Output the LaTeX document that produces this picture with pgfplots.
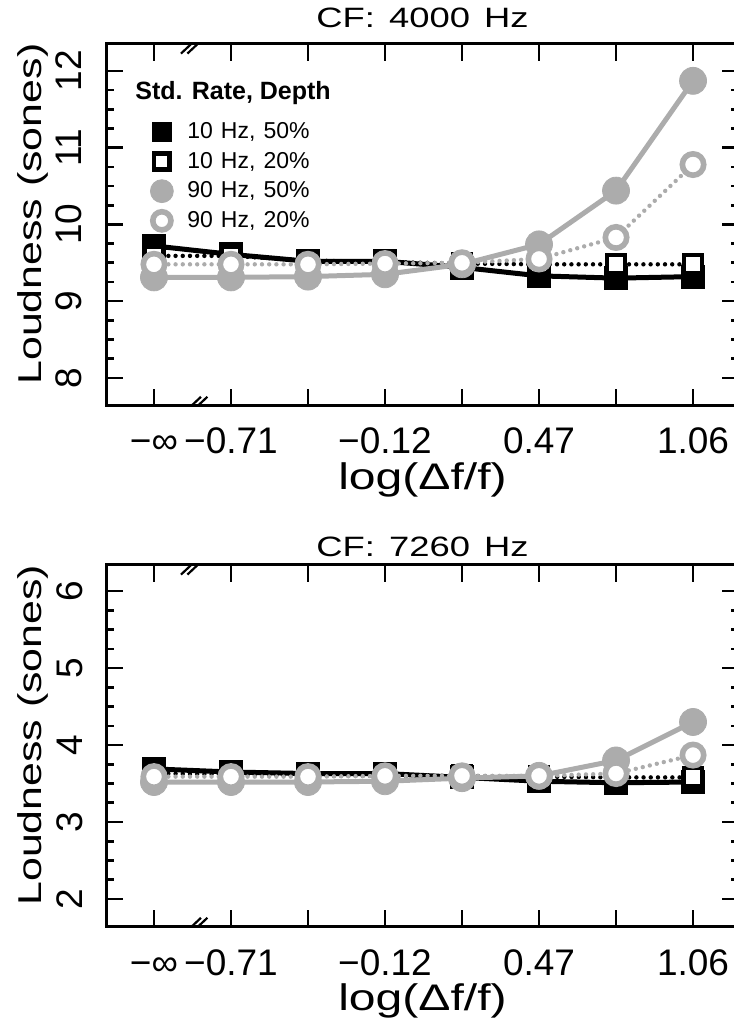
\documentclass[border=0pt]{standalone}
\usepackage{fontspec}
\setmainfont{Liberation Sans}
\newfontfamily\widefont[FakeStretch=1.3]{Liberation Sans}
\usepackage{pgfplots}
\pgfplotsset{compat=1.18}
\definecolor{lgray}{RGB}{172,172,172}
\newcommand{\tickfont}{\fontsize{18.5}{20}\selectfont}
\newcommand{\wsp}{\hspace{0.35em}}
\newcommand{\tsp}{\hspace{0.5em}}
\tikzset{brk/.style={line width=1.1pt}}
\pgfplotsset{
  panel/.style={
    width=316.5pt, height=181pt, scale only axis,
    xmin=-0.623, xmax=7.597,
    xtick={0,...,7},
    xticklabels={−∞,−0.71,,−0.12,,0.47,,1.06},
    tick align=inside,
    xtick pos=both, ytick pos=both,
    xticklabel pos=lower, yticklabel pos=left,
    major tick length=8.5pt,
    minor tick length=4.2pt,
    minor y tick num=3,
    every tick/.style={line width=1.3pt, black},
    axis line style={line width=1.5pt},
    /pgf/number format/assume math mode=true,
    tick label style={font=\tickfont},
    xticklabel style={anchor=base, inner sep=0pt},
    xticklabel shift=24pt,
    yticklabel style={rotate=90, anchor=base, inner sep=0pt},
    yticklabel shift=12pt,
    every axis y label/.style={at={(axis description cs:-0.1153,0.53)}, rotate=90, anchor=center, font=\widefont\fontsize{16.5}{18}\selectfont},
    every axis x label/.style={at={(axis description cs:0.5,-0.204)}, anchor=center, font=\widefont\fontsize{18.5}{20}\selectfont},
    xlabel={log(Δf/f)},
    ylabel={Loudness (sones)},
  },
  s1/.style={black, line width=2.5pt, mark=square*, mark size=5.75pt, mark options={solid, fill=black, draw=black, line width=0.4pt}},
  s2/.style={black, line width=2.2pt, line cap=round, dash pattern=on 0pt off 3.6pt, mark=square*, mark size=4.6pt, mark options={solid, fill=white, draw=black, line width=2.2pt}},
  s3/.style={lgray, line width=2.5pt, mark=*, mark size=6.75pt, mark options={solid, fill=lgray, draw=lgray, line width=0.4pt}},
  s4/.style={lgray, line width=2.2pt, line cap=round, dash pattern=on 0pt off 3.6pt, mark=*, mark size=5.35pt, mark options={solid, fill=white, draw=lgray, line width=2.8pt}},
}
\begin{document}
\begin{tikzpicture}
\begin{axis}[panel, at={(53pt,307pt)}, anchor=south west,
  ymin=7.635, ymax=12.35, ytick={8,9,10,11,12},
  title={CF:\tsp 4000\tsp Hz},
  every axis title/.style={at={(axis description cs:0.5,1.072)}, anchor=center, font=\widefont\fontsize{14}{16}\selectfont},
  legend style={at={(rel axis cs:0.0695,0.793)}, anchor=north west, draw=none, fill=none,
    inner sep=0pt, row sep=2.3pt, font=\fontsize{11.5}{12}\selectfont,
    nodes={inner sep=1.5pt},
    /tikz/every odd column/.append style={column sep=5.5pt}},
  legend cell align=left,
  legend image code/.code={\draw[#1, /tikz/every mark/.append style={scale=0.85}] plot coordinates {(0.15cm,0cm)};},
]
\addplot[s1] coordinates {(0,9.72) (1,9.61) (2,9.52) (3,9.52) (4,9.44) (5,9.33) (6,9.30) (7,9.32)};
\addplot[s2] coordinates {(0,9.59) (1,9.59) (2,9.53) (3,9.51) (4,9.49) (5,9.48) (6,9.48) (7,9.48)};
\addplot[s3] coordinates {(0,9.31) (1,9.31) (2,9.32) (3,9.35) (4,9.48) (5,9.74) (6,10.44) (7,11.87)};
\addplot[s4] coordinates {(0,9.48) (1,9.48) (2,9.48) (3,9.49) (4,9.50) (5,9.55) (6,9.83) (7,10.78)};
\legend{{10\wsp Hz,\wsp 50\%}, {10\wsp Hz,\wsp 20\%}, {90\wsp Hz,\wsp 50\%}, {90\wsp Hz,\wsp 20\%}}
\node[anchor=west, font=\bfseries\fontsize{12.5}{14}\selectfont, inner sep=0pt] at (rel axis cs:0.0458,0.865) {Std. Rate, Depth};
\draw[brk] ([xshift=-6.5pt,yshift=-4.8pt]rel axis cs:0.139,0) -- ++(10pt,9.4pt);
\draw[brk] ([xshift=-3.3pt,yshift=-4.8pt]rel axis cs:0.139,0) -- ++(10pt,9.4pt);
\draw[brk] ([xshift=-6.5pt,yshift=-4.8pt]rel axis cs:0.139,1) -- ++(10pt,9.4pt);
\draw[brk] ([xshift=-3.3pt,yshift=-4.8pt]rel axis cs:0.139,1) -- ++(10pt,9.4pt);
\end{axis}
\begin{axis}[panel, at={(53pt,46.5pt)}, anchor=south west,
  ymin=1.636, ymax=6.34, ytick={2,3,4,5,6},
  title={CF:\tsp 7260\tsp Hz},
  every axis title/.style={at={(axis description cs:0.5,1.050)}, anchor=center, font=\widefont\fontsize{14}{16}\selectfont},
]
\addplot[s1] coordinates {(0,3.69) (1,3.65) (2,3.63) (3,3.63) (4,3.58) (5,3.53) (6,3.51) (7,3.52)};
\addplot[s2] coordinates {(0,3.63) (1,3.62) (2,3.60) (3,3.60) (4,3.60) (5,3.59) (6,3.58) (7,3.58)};
\addplot[s3] coordinates {(0,3.52) (1,3.52) (2,3.52) (3,3.53) (4,3.57) (5,3.60) (6,3.80) (7,4.30)};
\addplot[s4] coordinates {(0,3.59) (1,3.59) (2,3.59) (3,3.60) (4,3.60) (5,3.60) (6,3.63) (7,3.87)};
\draw[brk] ([xshift=-6.5pt,yshift=-4.8pt]rel axis cs:0.139,0) -- ++(10pt,9.4pt);
\draw[brk] ([xshift=-3.3pt,yshift=-4.8pt]rel axis cs:0.139,0) -- ++(10pt,9.4pt);
\draw[brk] ([xshift=-6.5pt,yshift=-4.8pt]rel axis cs:0.139,1) -- ++(10pt,9.4pt);
\draw[brk] ([xshift=-3.3pt,yshift=-4.8pt]rel axis cs:0.139,1) -- ++(10pt,9.4pt);
\end{axis}
\pgfresetboundingbox
\useasboundingbox (0,0) rectangle (366.5pt,510pt);
\end{tikzpicture}
\end{document}
